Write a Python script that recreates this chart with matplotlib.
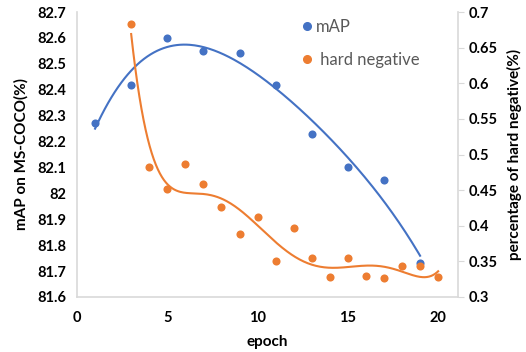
import numpy as np
import matplotlib
matplotlib.use("Agg")
import matplotlib.pyplot as plt

plt.rcParams['font.family'] = ['Lato', 'DejaVu Sans']

map_epochs = [1, 3, 5, 7, 9, 11, 13, 15, 17, 19]
map_values = [82.27, 82.42, 82.60, 82.55, 82.54, 82.42, 82.23, 82.10, 82.05, 81.73]

hn_epochs = [3, 4, 5, 6, 7, 8, 9, 10, 11, 12, 13, 14, 15, 16, 17, 18, 19, 20]
hn_values = [0.683, 0.482, 0.452, 0.486, 0.458, 0.426, 0.388, 0.412, 0.350, 0.397,
             0.355, 0.328, 0.355, 0.330, 0.326, 0.343, 0.344, 0.328]

x_ticks = [0, 5, 10, 15, 20]
left_ticks = [81.6, 81.7, 81.8, 81.9, 82.0, 82.1, 82.2, 82.3, 82.4, 82.5, 82.6, 82.7]
left_labels = ['81.6', '81.7', '81.8', '81.9', '82', '82.1', '82.2', '82.3', '82.4', '82.5', '82.6', '82.7']
right_ticks = [0.3, 0.35, 0.4, 0.45, 0.5, 0.55, 0.6, 0.65, 0.7]
right_labels = ['0.3', '0.35', '0.4', '0.45', '0.5', '0.55', '0.6', '0.65', '0.7']

blue = '#4472C4'
orange = '#ED7D31'
grey = '#D9D9D9'

fig = plt.figure(figsize=(5.26, 3.52), dpi=100)
ax = fig.add_axes([77/526, 1-297/352, (458-77)/526, (297-12)/352])
ax2 = ax.twinx()

# trendlines (polynomial fits like Excel)
p1 = np.polyfit(map_epochs, map_values, 4)
xs1 = np.linspace(map_epochs[0], map_epochs[-1], 200)
ax.plot(xs1, np.polyval(p1, xs1), color=blue, lw=1.5, zorder=2)
ax.scatter(map_epochs, map_values, s=34, color=blue, zorder=3, linewidths=0)

p2 = np.polyfit(hn_epochs, hn_values, 6)
xs2 = np.linspace(hn_epochs[0], hn_epochs[-1], 300)
ax2.plot(xs2, np.polyval(p2, xs2), color=orange, lw=1.5, zorder=2)
ax2.scatter(hn_epochs, hn_values, s=34, color=orange, zorder=3, linewidths=0)

ax.set_xlim(0, 21.1)
ax.set_ylim(81.6, 82.7)
ax2.set_ylim(0.3, 0.7)

ax.set_xticks(x_ticks)
ax.set_xticklabels([str(t) for t in x_ticks], fontsize=10.5, fontweight='bold')
ax.set_yticks(left_ticks)
ax.set_yticklabels(left_labels, fontsize=10.5, fontweight='bold')
ax2.set_yticks(right_ticks)
ax2.set_yticklabels(right_labels, fontsize=10.5, fontweight='bold')

for a in (ax, ax2):
    a.spines['top'].set_visible(False)
    for s in ('left', 'bottom', 'right'):
        a.spines[s].set_color(grey)
        a.spines[s].set_linewidth(1.2)
ax.spines['right'].set_visible(False)
ax2.spines['left'].set_visible(False)
ax2.spines['bottom'].set_visible(False)

ax.tick_params(axis='both', length=0, pad=8, colors='black')
ax.tick_params(axis='x', pad=10)
ax2.tick_params(axis='y', length=4, color=grey, pad=4)

ax.set_xlabel('epoch', fontsize=11, fontweight='bold', labelpad=7)
ax.set_ylabel('mAP on MS-COCO(%)', fontsize=11, fontweight='bold', labelpad=6)
ax2.set_ylabel('percentage of hard negative(%)', fontsize=11, fontweight='bold', labelpad=6)

# legend
from matplotlib.lines import Line2D
handles = [Line2D([], [], marker='o', ls='', color=blue, markersize=5.5),
           Line2D([], [], marker='o', ls='', color=orange, markersize=5.5)]
leg = ax.legend(handles, ['mAP', ' hard negative'], loc='upper left',
                bbox_to_anchor=((298-77-14)/381, 1.0 + 8/285), frameon=False, fontsize=12,
                labelcolor='#595959', handletextpad=0.0, labelspacing=1.0,
                handlelength=1.0)

fig.savefig('out.png', dpi=100)
